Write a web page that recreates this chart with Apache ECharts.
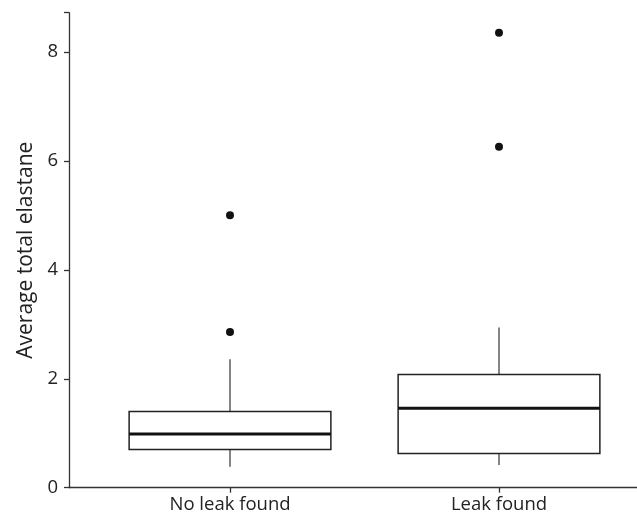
<!DOCTYPE html>
<html>
<head>
<meta charset="utf-8">
<script src="https://cdn.jsdelivr.net/npm/echarts@6/dist/echarts.min.js"></script>
<style>html,body{margin:0;padding:0;background:#fff}#c{width:637px;height:519px}</style>
</head>
<body>
<div id="c"></div>
<script>
const categories = ['No leak found', 'Leak found'];
// [min whisker, Q1, median, Q3, max whisker]
const noLeakBox = [0.385, 0.70, 0.985, 1.40, 2.36];
const leakBox = [0.416, 0.63, 1.457, 2.08, 2.94];
const noLeakOutliers = [2.86, 5.00];
const leakOutliers = [6.26, 8.35];
const yTicks = [0, 2, 4, 6, 8];

const boxes = [noLeakBox, leakBox];
const boxData = boxes.map((b, i) => [i].concat(b));
const outlierData = [];
noLeakOutliers.forEach(v => outlierData.push([0, v]));
leakOutliers.forEach(v => outlierData.push([1, v]));

const FONT = 'Open Sans';
const INK = '#222222';
const chart = echarts.init(document.getElementById('c'), null, {renderer: 'canvas'});

function renderBox(params, api) {
  const idx = api.value(0);
  const vMin = api.value(1), q1 = api.value(2), med = api.value(3), q3 = api.value(4), vMax = api.value(5);
  const pMin = api.coord([idx, vMin]);
  const pQ1 = api.coord([idx, q1]);
  const pMed = api.coord([idx, med]);
  const pQ3 = api.coord([idx, q3]);
  const pMax = api.coord([idx, vMax]);
  const band = api.size([1, 0])[0];
  const half = band * 0.75 / 2;
  const cx = pMed[0];
  return {
    type: 'group',
    children: [
      {type: 'line', shape: {x1: cx, y1: pQ3[1], x2: cx, y2: pMax[1]}, style: {stroke: '#333', lineWidth: 1.2}},
      {type: 'line', shape: {x1: cx, y1: pQ1[1], x2: cx, y2: pMin[1]}, style: {stroke: '#333', lineWidth: 1.2}},
      {type: 'rect', shape: {x: cx - half, y: pQ3[1], width: half * 2, height: pQ1[1] - pQ3[1]},
        style: {fill: '#ffffff', stroke: '#222', lineWidth: 1.5}},
      {type: 'line', shape: {x1: cx - half, y1: pMed[1], x2: cx + half, y2: pMed[1]}, style: {stroke: '#111', lineWidth: 3}}
    ]
  };
}

chart.setOption({
  animation: false,
  backgroundColor: '#ffffff',
  textStyle: {fontFamily: FONT},
  grid: [
    {left: 69, right: 0, top: 12.7, height: 475},
    {left: 95.5, width: 538, top: 12.7, height: 475}
  ],
  xAxis: [
    {gridIndex: 0, type: 'value', min: 0, max: 1,
      axisLine: {show: true, lineStyle: {color: '#333', width: 1.3}},
      axisTick: {show: false}, axisLabel: {show: false}, splitLine: {show: false}},
    {gridIndex: 1, type: 'category', data: categories, boundaryGap: true,
      axisLine: {show: false},
      axisTick: {show: true, alignWithLabel: true, length: 5, lineStyle: {color: '#333', width: 1.3}},
      axisLabel: {fontFamily: FONT, fontSize: 18.5, color: INK, margin: 8},
      splitLine: {show: false}}
  ],
  yAxis: [
    {gridIndex: 0, type: 'value', min: 0, max: 8.72, interval: 2,
      axisLine: {show: true, lineStyle: {color: '#333', width: 1.3}},
      axisTick: {show: true, length: 5, lineStyle: {color: '#333', width: 1.3}},
      axisLabel: {fontFamily: FONT, fontSize: 18.5, color: INK, margin: 11,
        customValues: yTicks, formatter: v => String(v)},
      splitLine: {show: false},
      name: 'Average total elastane', nameLocation: 'middle', nameGap: 32,
      nameTextStyle: {fontFamily: FONT, fontSize: 21, color: INK}},
    {gridIndex: 1, type: 'value', min: 0, max: 8.72, interval: 2, show: false}
  ],
  series: [
    {type: 'custom', xAxisIndex: 1, yAxisIndex: 1, data: boxData, renderItem: renderBox,
      encode: {x: 0, y: [1, 2, 3, 4, 5]}},
    {type: 'scatter', xAxisIndex: 1, yAxisIndex: 1, data: outlierData, symbol: 'circle', symbolSize: 8,
      itemStyle: {color: '#111', opacity: 1}}
  ]
});
</script>
</body>
</html>
